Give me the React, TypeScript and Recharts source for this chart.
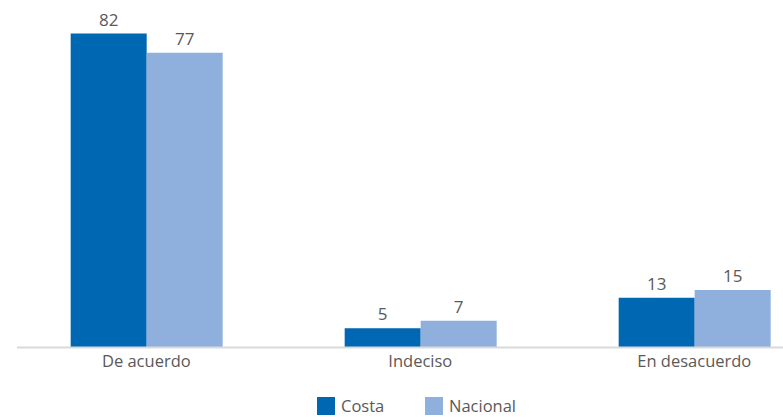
import { BarChart, Bar, XAxis, YAxis, LabelList } from 'recharts';

const categories = ['De acuerdo', 'Indeciso', 'En desacuerdo'];
const costa = [82, 5, 13];
const nacional = [77, 7, 15];

const seriesInfo = [
  { key: 'costa', name: 'Costa', color: '#0067B2' },
  { key: 'nacional', name: 'Nacional', color: '#8FB0DD' },
];

const data = categories.map((name, i) => ({
  name,
  costa: costa[i],
  nacional: nacional[i],
}));

const FONT = '"Open Sans", sans-serif';
const TEXT = '#595959';

export default function App() {
  return (
    <div
      style={{
        position: 'absolute',
        left: 0,
        top: 0,
        width: 783,
        height: 417,
        overflow: 'hidden',
        background: '#fff',
        fontFamily: FONT,
      }}
    >
      <BarChart
        width={783}
        height={417}
        data={data}
        margin={{ top: 3, right: 0, bottom: 39.5, left: 17 }}
        barCategoryGap="22.4%"
        barGap={0}
      >
        <XAxis
          dataKey="name"
          height={30}
          padding={{ left: -7.7, right: -48.3 }}
          axisLine={{ stroke: '#D9D9D9', strokeWidth: 2 }}
          tickLine={false}
          tick={{ fill: TEXT, fontSize: 16.5, fontFamily: FONT }}
          interval={0}
        />
        <YAxis hide domain={[0, 90]} />
        {seriesInfo.map((s) => (
          <Bar
            key={s.key}
            dataKey={s.key}
            name={s.name}
            fill={s.color}
            isAnimationActive={false}
          >
            <LabelList
              dataKey={s.key}
              position="top"
              offset={8}
              fill={TEXT}
              fontSize={17}
              fontFamily={FONT}
            />
          </Bar>
        ))}
      </BarChart>
      {seriesInfo.map((s, i) => (
        <div
          key={s.key}
          style={{
            position: 'absolute',
            left: i === 0 ? 317 : 425,
            top: 397,
            display: 'flex',
            alignItems: 'center',
            height: 18,
          }}
        >
          <span style={{ width: 18, height: 18, background: s.color, display: 'inline-block' }} />
          <span style={{ marginLeft: 6, color: TEXT, fontSize: 16.5, lineHeight: '18px' }}>{s.name}</span>
        </div>
      ))}
    </div>
  );
}
